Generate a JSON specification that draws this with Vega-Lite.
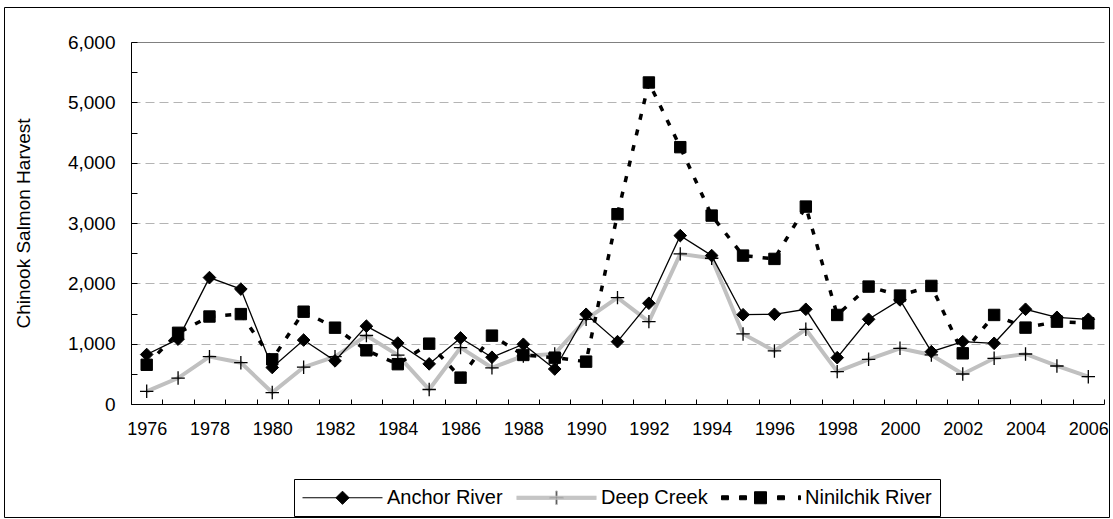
{
  "$schema": "https://vega.github.io/schema/vega-lite/v6.json",
  "autosize": {"type": "none"},
  "width": 1105,
  "height": 510,
  "padding": {"left": 4, "top": 7, "right": 4, "bottom": 2},
  "background": "white",
  "config": {
    "view": {"stroke": "black", "strokeWidth": 1},
    "font": "Liberation Sans",
    "axis": {"labelFont": "Liberation Sans", "titleFont": "Liberation Sans", "labelColor": "black", "titleColor": "black", "domainColor": "black", "tickColor": "black"}
  },
  "data": {
    "values": [
      {"year": 1976, "series": "Anchor River", "value": 820}, {"year": 1976, "series": "Deep Creek", "value": 210}, {"year": 1976, "series": "Ninilchik River", "value": 650},
      {"year": 1977, "series": "Anchor River", "value": 1075}, {"year": 1977, "series": "Deep Creek", "value": 430}, {"year": 1977, "series": "Ninilchik River", "value": 1180},
      {"year": 1978, "series": "Anchor River", "value": 2095}, {"year": 1978, "series": "Deep Creek", "value": 785}, {"year": 1978, "series": "Ninilchik River", "value": 1450},
      {"year": 1979, "series": "Anchor River", "value": 1905}, {"year": 1979, "series": "Deep Creek", "value": 685}, {"year": 1979, "series": "Ninilchik River", "value": 1490},
      {"year": 1980, "series": "Anchor River", "value": 605}, {"year": 1980, "series": "Deep Creek", "value": 190}, {"year": 1980, "series": "Ninilchik River", "value": 740},
      {"year": 1981, "series": "Anchor River", "value": 1060}, {"year": 1981, "series": "Deep Creek", "value": 610}, {"year": 1981, "series": "Ninilchik River", "value": 1530},
      {"year": 1982, "series": "Anchor River", "value": 715}, {"year": 1982, "series": "Deep Creek", "value": 785}, {"year": 1982, "series": "Ninilchik River", "value": 1265},
      {"year": 1983, "series": "Anchor River", "value": 1290}, {"year": 1983, "series": "Deep Creek", "value": 1135}, {"year": 1983, "series": "Ninilchik River", "value": 890},
      {"year": 1984, "series": "Anchor River", "value": 1010}, {"year": 1984, "series": "Deep Creek", "value": 810}, {"year": 1984, "series": "Ninilchik River", "value": 660},
      {"year": 1985, "series": "Anchor River", "value": 665}, {"year": 1985, "series": "Deep Creek", "value": 240}, {"year": 1985, "series": "Ninilchik River", "value": 1000},
      {"year": 1986, "series": "Anchor River", "value": 1095}, {"year": 1986, "series": "Deep Creek", "value": 935}, {"year": 1986, "series": "Ninilchik River", "value": 437},
      {"year": 1987, "series": "Anchor River", "value": 775}, {"year": 1987, "series": "Deep Creek", "value": 600}, {"year": 1987, "series": "Ninilchik River", "value": 1133},
      {"year": 1988, "series": "Anchor River", "value": 990}, {"year": 1988, "series": "Deep Creek", "value": 796}, {"year": 1988, "series": "Ninilchik River", "value": 813},
      {"year": 1989, "series": "Anchor River", "value": 580}, {"year": 1989, "series": "Deep Creek", "value": 830}, {"year": 1989, "series": "Ninilchik River", "value": 768},
      {"year": 1990, "series": "Anchor River", "value": 1487}, {"year": 1990, "series": "Deep Creek", "value": 1404}, {"year": 1990, "series": "Ninilchik River", "value": 702},
      {"year": 1991, "series": "Anchor River", "value": 1033}, {"year": 1991, "series": "Deep Creek", "value": 1763}, {"year": 1991, "series": "Ninilchik River", "value": 3146},
      {"year": 1992, "series": "Anchor River", "value": 1670}, {"year": 1992, "series": "Deep Creek", "value": 1365}, {"year": 1992, "series": "Ninilchik River", "value": 5329},
      {"year": 1993, "series": "Anchor River", "value": 2791}, {"year": 1993, "series": "Deep Creek", "value": 2488}, {"year": 1993, "series": "Ninilchik River", "value": 4257},
      {"year": 1994, "series": "Anchor River", "value": 2460}, {"year": 1994, "series": "Deep Creek", "value": 2416}, {"year": 1994, "series": "Ninilchik River", "value": 3123},
      {"year": 1995, "series": "Anchor River", "value": 1480}, {"year": 1995, "series": "Deep Creek", "value": 1161}, {"year": 1995, "series": "Ninilchik River", "value": 2460},
      {"year": 1996, "series": "Anchor River", "value": 1487}, {"year": 1996, "series": "Deep Creek", "value": 879}, {"year": 1996, "series": "Ninilchik River", "value": 2405},
      {"year": 1997, "series": "Anchor River", "value": 1570}, {"year": 1997, "series": "Deep Creek", "value": 1238}, {"year": 1997, "series": "Ninilchik River", "value": 3272},
      {"year": 1998, "series": "Anchor River", "value": 768}, {"year": 1998, "series": "Deep Creek", "value": 536}, {"year": 1998, "series": "Ninilchik River", "value": 1476},
      {"year": 1999, "series": "Anchor River", "value": 1404}, {"year": 1999, "series": "Deep Creek", "value": 741}, {"year": 1999, "series": "Ninilchik River", "value": 1946},
      {"year": 2000, "series": "Anchor River", "value": 1725}, {"year": 2000, "series": "Deep Creek", "value": 923}, {"year": 2000, "series": "Ninilchik River", "value": 1797},
      {"year": 2001, "series": "Anchor River", "value": 867}, {"year": 2001, "series": "Deep Creek", "value": 813}, {"year": 2001, "series": "Ninilchik River", "value": 1957},
      {"year": 2002, "series": "Anchor River", "value": 1033}, {"year": 2002, "series": "Deep Creek", "value": 497}, {"year": 2002, "series": "Ninilchik River", "value": 840},
      {"year": 2003, "series": "Anchor River", "value": 1006}, {"year": 2003, "series": "Deep Creek", "value": 757}, {"year": 2003, "series": "Ninilchik River", "value": 1476},
      {"year": 2004, "series": "Anchor River", "value": 1570}, {"year": 2004, "series": "Deep Creek", "value": 829}, {"year": 2004, "series": "Ninilchik River", "value": 1266},
      {"year": 2005, "series": "Anchor River", "value": 1437}, {"year": 2005, "series": "Deep Creek", "value": 630}, {"year": 2005, "series": "Ninilchik River", "value": 1365},
      {"year": 2006, "series": "Anchor River", "value": 1404}, {"year": 2006, "series": "Deep Creek", "value": 453}, {"year": 2006, "series": "Ninilchik River", "value": 1338}
    ]
  },
  "encoding": {
    "x": {
      "field": "year", "type": "ordinal", "bandPosition": 0.5,
      "scale": {"type": "band", "paddingInner": 0, "paddingOuter": 0, "range": [127, 1100]},
      "axis": {
        "title": null, "labelAngle": 0, "labelFontSize": 18, "labelPadding": 21, "offset": -113,
        "labelExpr": "datum.value % 2 == 0 ? datum.label : ''",
        "tickBand": "extent", "tickSize": -5, "grid": false
      }
    },
    "y": {
      "field": "value", "type": "quantitative",
      "scale": {"domain": [0, 6000], "nice": false, "range": [397, 35]},
      "axis": {
        "title": "Chinook Salmon Harvest", "titleFontSize": 19, "titleFontWeight": "normal",
        "titleX": -102, "titleY": 216, "titleBaseline": "alphabetic", "titleAngle": -90, "offset": -127,
        "values": [0, 500, 1000, 1500, 2000, 2500, 3000, 3500, 4000, 4500, 5000, 5500, 6000],
        "labelExpr": "datum.value % 1000 == 0 ? format(datum.value, ',') : ''",
        "labelFontSize": 19, "labelPadding": 22, "tickSize": -6,
        "grid": true,
        "gridColor": {"condition": {"test": "datum.value == 6000", "value": "#808080"}, "value": "#b4b4b4"},
        "gridDash": {"condition": {"test": "datum.value == 6000", "value": []}, "value": [9, 5]},
        "gridOpacity": {"condition": {"test": "datum.value % 1000 == 0 && datum.value > 0", "value": 1}, "value": 0}
      }
    }
  },
  "layer": [
    {
      "data": {"values": [{}]},
      "mark": {"type": "rule", "color": "#808080", "strokeWidth": 1},
      "encoding": {
        "x": {"datum": 2006, "type": "ordinal", "bandPosition": 1},
        "y": {"datum": 0, "type": "quantitative"},
        "y2": {"datum": 6000}
      }
    },
    {"transform": [{"filter": "datum.series == 'Deep Creek'"}], "mark": {"type": "line", "color": "#c0c0c0", "strokeWidth": 4}},
    {"transform": [{"filter": "datum.series == 'Anchor River'"}], "mark": {"type": "line", "color": "black", "strokeWidth": 1.3}},
    {"transform": [{"filter": "datum.series == 'Ninilchik River'"}], "mark": {"type": "line", "color": "black", "strokeWidth": 3.5, "strokeDash": [6, 10]}},
    {"transform": [{"filter": "datum.series == 'Deep Creek'"}], "mark": {"type": "point", "shape": "M-1,0H1M0,-1V1", "size": 180, "filled": false, "stroke": "black", "strokeWidth": 1.3, "opacity": 1}},
    {"transform": [{"filter": "datum.series == 'Anchor River'"}], "mark": {"type": "point", "shape": "diamond", "size": 160, "filled": true, "color": "black", "stroke": "black", "strokeWidth": 1, "opacity": 1}},
    {"transform": [{"filter": "datum.series == 'Ninilchik River'"}], "mark": {"type": "point", "shape": "square", "size": 130, "filled": true, "color": "black", "stroke": "black", "strokeWidth": 1, "opacity": 1}},
    {
      "mark": {"type": "point", "opacity": 0, "filled": true, "color": "black", "fill": "black", "strokeWidth": 1},
      "encoding": {
        "shape": {
          "field": "series", "type": "nominal",
          "scale": {
            "domain": ["Anchor River", "Deep Creek", "Ninilchik River"],
            "range": [
              "M-4,0H4M0,-0.66L0.66,0L0,0.66L-0.66,0Z",
              "M-4,-0.15H4M-4,-0.05H4M-4,0.05H4M-4,0.15H4M-0.68,-0.07H-0.07V-0.68H0.07V-0.07H0.68V0.07H0.07V0.68H-0.07V0.07H-0.68Z",
              "M-3.9,-0.2H-3.2V0.2H-3.9ZM-2.1,-0.2H-1.4V0.2H-2.1ZM-0.6,-0.6H0.6V0.6H-0.6ZM1.7,-0.2H2.4V0.2H1.7ZM3.8,-0.2H4V0.2H3.8Z"
            ]
          },
          "legend": {
            "title": null, "orient": "none", "direction": "horizontal",
            "legendX": 290, "legendY": 472,
            "symbolSize": 400, "symbolStrokeWidth": 1, "symbolOffset": 30, "symbolFillColor": "black",
            "labelFont": "Liberation Sans", "labelFontSize": 20, "labelColor": "black", "labelOffset": 34, "labelLimit": 300,
            "columnPadding": 11, "padding": 8, "strokeColor": "black", "cornerRadius": 0
          }
        },
        "stroke": {
          "field": "series", "type": "nominal",
          "scale": {"domain": ["Anchor River", "Deep Creek", "Ninilchik River"], "range": ["black", "#b8b8b8", "black"]},
          "legend": {"title": null, "orient": "none", "direction": "horizontal", "legendX": 290, "legendY": 472}
        }
      }
    }
  ]
}
